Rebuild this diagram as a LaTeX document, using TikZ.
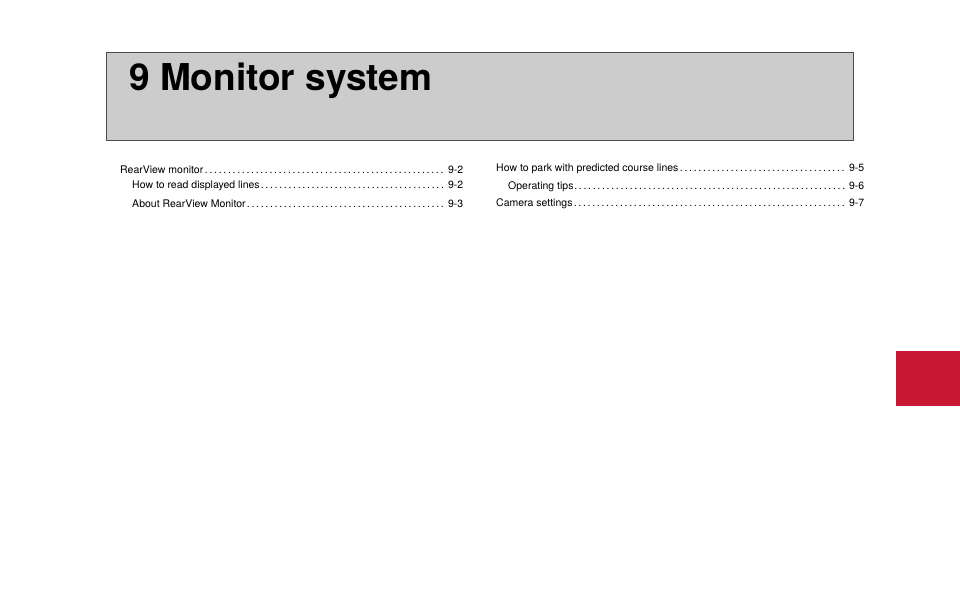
\documentclass[tikz,border=0pt]{standalone}
\usepackage{fontspec}
\setmainfont{TeX Gyre Heros}
\begin{document}
\begin{tikzpicture}[x=1pt,y=-1pt,
 entry/.style={anchor=base west,inner sep=0pt,font=\fontsize{10.5}{12}\selectfont}]
\useasboundingbox (0,0) rectangle (960,611);
\node[draw=black!70,line width=1.2pt,fill=black!20,minimum width=747pt,minimum height=88pt,anchor=north west,inner sep=0pt] (hdr) at (106,52) {};
\node[anchor=base west,inner sep=0pt,font=\fontsize{37}{40}\bfseries\selectfont] (title) at (129,90) {9 Monitor system};
\fill[red!75!black,fill={rgb,255:red,200;green,24;blue,52}] (896,351) rectangle (960,406);
\newcommand{\tocline}[5]{\node[entry] (#1) at (#2,#3) {\parbox{#4pt}{#5}};}
\tocline{a1}{120}{172}{343}{RearView monitor\dotfill\ 9-2}
\tocline{a2}{132}{189}{331}{How to read displayed lines\dotfill\ 9-2}
\tocline{a3}{132}{206}{331}{About RearView Monitor\dotfill\ 9-3}
\tocline{b1}{496}{172}{368}{How to park with predicted course lines\dotfill\ 9-5}
\tocline{b2}{508}{189}{356}{Operating tips\dotfill\ 9-6}
\tocline{b3}{496}{206}{368}{Camera settings\dotfill\ 9-7}
\end{tikzpicture}
\end{document}
